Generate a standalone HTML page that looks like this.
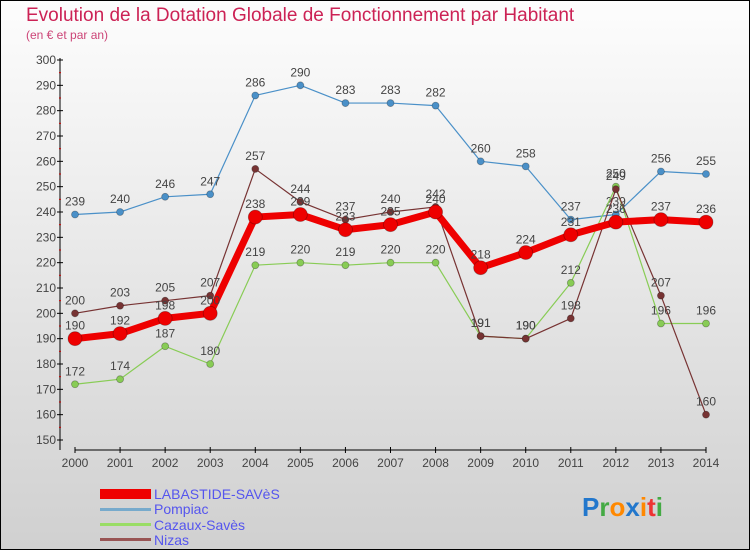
<!DOCTYPE html>
<html><head><meta charset="utf-8">
<style>
html,body{margin:0;padding:0;}
body{width:750px;height:550px;overflow:hidden;font-family:"Liberation Sans",sans-serif;}
svg{display:block;}
</style></head>
<body>
<svg id="chart" width="750" height="550" xmlns="http://www.w3.org/2000/svg">
<defs>
<linearGradient id="bg" x1="0" y1="0" x2="0" y2="1">
<stop offset="0" stop-color="#fdfdfd"/><stop offset="1" stop-color="#d0d0d0"/>
</linearGradient>
</defs>
<rect x="0.5" y="0.5" width="749" height="549" fill="url(#bg)" stroke="#000" stroke-width="1"/>
<text x="26" y="21" font-size="19" fill="#cc2255">Evolution de la Dotation Globale de Fonctionnement par Habitant</text>
<text x="26" y="39" font-size="12" fill="#cc4477">(en € et par an)</text>
<g id="axes"></g>
<g id="series"></g>
<g>
<rect x="100" y="489" width="51" height="10" fill="#ee0000"/>
<text x="154" y="499" font-size="14" fill="#5555ee">LABASTIDE-SAVèS</text>
<rect x="100" y="508" width="51" height="3" fill="#77aacc"/>
<text x="154" y="514" font-size="14" fill="#5555ee">Pompiac</text>
<rect x="100" y="523" width="51" height="3" fill="#99dd66"/>
<text x="154" y="530" font-size="14" fill="#5555ee">Cazaux-Savès</text>
<rect x="100" y="538" width="51" height="3" fill="#995555"/>
<text x="154" y="545" font-size="14" fill="#5555ee">Nizas</text>
</g>
<g font-size="26" font-weight="bold">
<text x="582" y="516"><tspan fill="#2277cc">P</tspan><tspan fill="#44aa44">r</tspan><tspan fill="#ff8800">o</tspan><tspan fill="#2277cc">x</tspan><tspan fill="#ff8800">i</tspan><tspan fill="#ee3333">t</tspan><tspan fill="#44aa44">i</tspan></text>
</g>
</svg>
<script>
const years=[2000,2001,2002,2003,2004,2005,2006,2007,2008,2009,2010,2011,2012,2013,2014];
const yTicks=[150,160,170,180,190,200,210,220,230,240,250,260,270,280,290,300];
const labastide=[190,192,198,200,238,239,233,235,240,218,224,231,236,237,236];
const pompiac=[239,240,246,247,286,290,283,283,282,260,258,237,239,256,255];
const cazaux=[172,174,187,180,219,220,219,220,220,191,190,212,250,196,196];
const nizas=[200,203,205,207,257,244,237,240,242,191,190,198,249,207,160];

const NS="http://www.w3.org/2000/svg";
function xS(i){return 75+i*(706-75)/14;}
function yS(v){return 440-(v-150)*(380/150);}
function mk(tag,attrs,parent){const e=document.createElementNS(NS,tag);for(const k in attrs)e.setAttribute(k,attrs[k]);parent.appendChild(e);return e;}
const axes=document.getElementById('axes');
const ser=document.getElementById('series');
let yl=mk('line',{x1:60,y1:58,x2:60,y2:450,stroke:'#000'},axes);


let xl=mk('line',{x1:75,y1:450,x2:706,y2:450,stroke:'#000'},axes);


yTicks.forEach(v=>{
  const y=yS(v);
  mk('line',{x1:57,y1:y,x2:63,y2:y,stroke:'#000'},axes);
  const t=mk('text',{x:56,y:y+4,'font-size':12,'text-anchor':'end',fill:'#444'},axes);
  t.textContent=v;
  
  
  if(v<300){mk('line',{x1:59,y1:y-12.67,x2:61,y2:y-12.67,stroke:'#c00'},axes);}
});
years.forEach((yr,i)=>{
  const x=xS(i);
  mk('line',{x1:x,y1:447,x2:x,y2:453,stroke:'#000'},axes);
  const t=mk('text',{x:x,y:467,'font-size':12,'text-anchor':'middle',fill:'#444'},axes);
  t.textContent=yr;
  
  
});
function drawSeries(vals,color,w,r,name){
  const g=mk('g',{},ser);
  
  
  const pts=vals.map((v,i)=>xS(i)+','+yS(v)).join(' ');
  const pl=mk('polyline',{points:pts,fill:'none',stroke:color,'stroke-width':w,'stroke-linejoin':'round'},g);
  
  
  vals.forEach((v,i)=>{
    const c=mk('circle',{cx:xS(i),cy:yS(v),r:r,fill:color,stroke:'rgba(0,0,0,0.3)','stroke-width':0.8},g);
    
    
    const t=mk('text',{x:xS(i),y:yS(v)-9,'font-size':12,'text-anchor':'middle',fill:'#444'},g);
    t.textContent=v;
    
    
  });
}
drawSeries(pompiac,'#4a90c8',1.2,3.5,'pompiac');
drawSeries(cazaux,'#88cc55',1.2,3.5,'cazaux');
drawSeries(nizas,'#773333',1.2,3.5,'nizas');
drawSeries(labastide,'#ee0000',7,7,'labastide');
</script>
</body></html>
